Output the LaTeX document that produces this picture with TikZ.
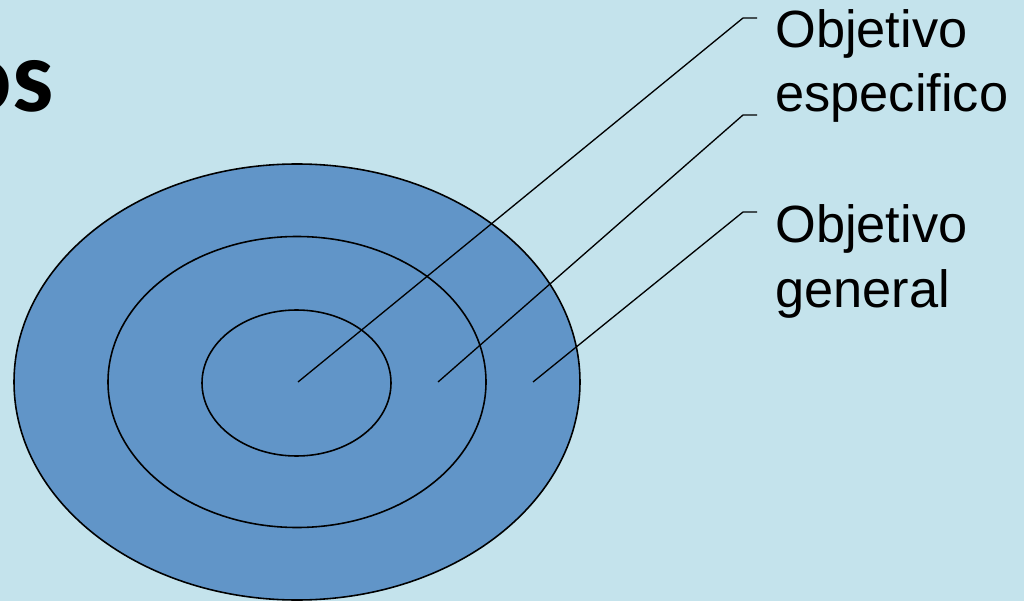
\documentclass[tikz,border=0pt]{standalone}
\usepackage{fontspec}
\setmainfont{Liberation Sans}
\newfontfamily\headfont{Carlito}
\usetikzlibrary{positioning}
\definecolor{paleblue}{HTML}{C4E3EC}
\definecolor{ringblue}{HTML}{6195C8}

\begin{document}
\begin{tikzpicture}[x=0.02cm, y=-0.02cm,
  ring/.style={draw=black, fill=ringblue, line width=0.9pt},
  lead/.style={draw=black, line width=0.75pt},
  lbl/.style={font=\fontsize{29.8}{36}\selectfont, anchor=base west, inner sep=0pt},
  head/.style={font=\headfont\bfseries\fontsize{59}{70}\selectfont, anchor=base east, inner sep=0pt},
]

% ======================= Background =======================
\clip (0,0) rectangle (1024,601);
\fill[paleblue] (0,0) rectangle (1024,601);
\node[head] (title) at (54,112) {os};

% ======================= Target rings =====================
\coordinate (ctr) at (297,382);
\draw[ring] (ctr) ellipse [x radius=283, y radius=218];
\draw[ring] (ctr) ellipse [x radius=189, y radius=145.5];
\draw[ring] (296.5,383) ellipse [x radius=94.5, y radius=73];

% ======================= Labels ===========================
\node[lbl] (spec1) at (775,48) {Objetivo};
\node[lbl] (spec2) at (775,112) {especifico};
\node[lbl] (gen1) at (775,242) {Objetivo};
\node[lbl] (gen2) at (775,307) {general};

% ======================= Leader lines =====================
\coordinate (p1) at (298,382);
\coordinate (p2) at (438,382);
\coordinate (p3) at (533,382);
\coordinate (b1) at (743,18);
\coordinate (b2) at (743,115);
\coordinate (b3) at (743,212);
\coordinate (k1) at (757,18);
\coordinate (k2) at (757,115);
\coordinate (k3) at (757,212);
\draw[lead] (p1) -- (b1) -- (k1);
\draw[lead] (p2) -- (b2) -- (k2);
\draw[lead] (p3) -- (b3) -- (k3);

\end{tikzpicture}
\end{document}
